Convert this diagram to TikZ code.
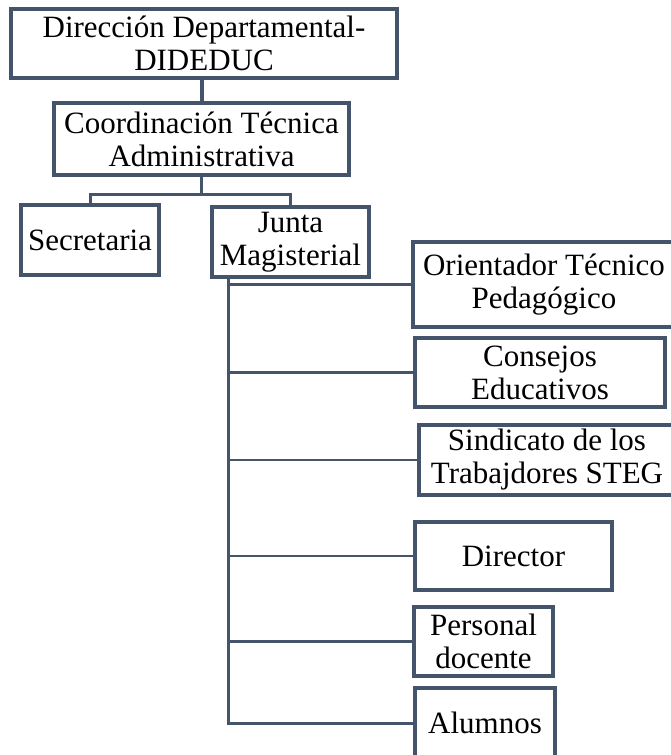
\documentclass[tikz,border=0pt]{standalone}
\usepackage{fontspec}
\setmainfont{Liberation Serif}
\definecolor{linea}{HTML}{44546A}
\tikzset{caja/.style={draw=linea,line width=4pt,fill=white,inner sep=0pt,align=center,font=\fontsize{31}{33}\selectfont}}
\begin{document}
\begin{tikzpicture}[x=1pt,y=-1pt]%organigrama
\useasboundingbox (0,0) rectangle (671,755);
\coordinate (tronco) at (228,0);
\node[caja,minimum width=386pt,minimum height=69pt] (dir) at (204,43.5) {Dirección Departamental-\\DIDEDUC};
\node[caja,minimum width=295pt,minimum height=72pt] (coord) at (201.5,139) {Coordinación Técnica\\Administrativa};
\node[caja,minimum width=138pt,minimum height=70pt] (sec) at (90,240) {Secretaria};
\node[caja,minimum width=157pt,minimum height=70pt] (junta) at (290.5,242) {Junta\\Magisterial};
\node[caja,minimum width=262pt,minimum height=85pt] (otp) at (544,284.5) {Orientador Técnico\\Pedagógico};
\node[caja,minimum width=250pt,minimum height=69pt] (cons) at (540,372.5) {Consejos\\Educativos};
\node[caja,minimum width=256pt,minimum height=70pt] (sind) at (547,460) {Sindicato de los\\Trabajdores STEG};
\node[caja,minimum width=197pt,minimum height=68pt] (direc) at (513.5,556) {Director};
\node[caja,minimum width=139pt,minimum height=69pt] (pers) at (483.5,641.5) {Personal\\docente};
\node[caja,minimum width=140pt,minimum height=70pt] (alum) at (485,723) {Alumnos};
\coordinate (barra) at (201.5,194);
\draw[linea,line width=4pt] (coord.north |- dir.south) -- (coord.north);
\draw[linea,line width=3pt] (coord.south) -- (barra);
\draw[linea,line width=3pt] (sec.north) |- (barra) -| (junta.north);
\draw[linea,line width=3pt] (junta.south -| tronco) |- (alum.west);
\foreach \n in {otp,cons,sind,direc,pers}
  \draw[linea,line width=2.5pt] (tronco |- \n.west) -- (\n.west);
\end{tikzpicture}
\end{document}
